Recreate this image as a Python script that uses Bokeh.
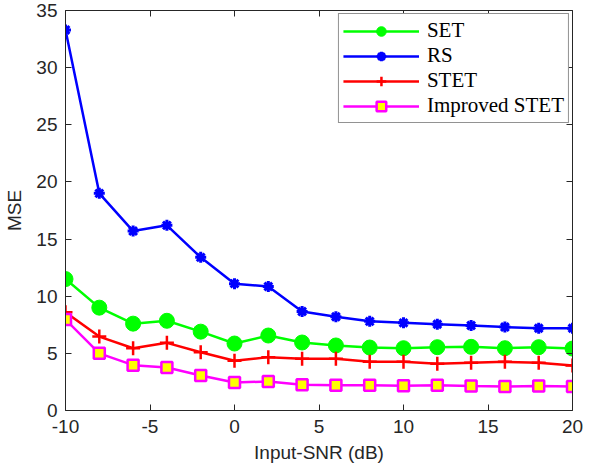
from bokeh.plotting import figure
from bokeh.models import Range1d, LinearAxis, FixedTicker, Legend, LegendItem
from bokeh.embed import file_html
from bokeh.resources import INLINE

snr = [-10, -8, -6, -4, -2, 0, 2, 4, 6, 8, 10, 12, 14, 16, 18, 20]
set_mse = [11.5, 9.0, 7.6, 7.85, 6.9, 5.86, 6.56, 5.95, 5.69, 5.51, 5.45, 5.54, 5.57, 5.45, 5.54, 5.42]
rs_mse = [33.3, 19.0, 15.7, 16.2, 13.4, 11.1, 10.85, 8.66, 8.2, 7.8, 7.67, 7.55, 7.44, 7.3, 7.2, 7.2]
stet_mse = [8.6, 6.47, 5.45, 5.92, 5.1, 4.35, 4.67, 4.52, 4.52, 4.26, 4.26, 4.08, 4.17, 4.26, 4.17, 3.94]
istet_mse = [7.96, 5.0, 3.97, 3.76, 3.06, 2.45, 2.54, 2.25, 2.22, 2.22, 2.16, 2.2, 2.14, 2.1, 2.14, 2.1]
x_ticks = [-10, -5, 0, 5, 10, 15, 20]
x_tick_labels = ["-10", "-5", "0", "5", "10", "15", "20"]
y_ticks = [0, 5, 10, 15, 20, 25, 30, 35]

AX = "#262626"
TICK_FONT = "Liberation Sans"

p = figure(width=595, height=468, output_backend="svg", toolbar_location=None,
           x_range=Range1d(-10, 20), y_range=Range1d(0, 35),
           min_border_left=65, min_border_right=23, min_border_top=10, min_border_bottom=58)
p.xgrid.visible = False
p.ygrid.visible = False
p.outline_line_color = None
p.background_fill_color = "white"
p.border_fill_color = "white"

for ax, ticks in ((p.xaxis[0], x_ticks), (p.yaxis[0], y_ticks)):
    ax.ticker = FixedTicker(ticks=ticks)
    ax.major_tick_in = 6
    ax.major_tick_out = 0
    ax.minor_tick_line_color = None
    ax.axis_line_color = AX
    ax.major_tick_line_color = AX
    ax.major_label_text_color = AX
    ax.major_label_text_font = TICK_FONT
    ax.major_label_text_font_size = "19px"
    ax.axis_label_text_font = TICK_FONT
    ax.axis_label_text_font_size = "19px"
    ax.axis_label_text_font_style = "normal"
    ax.axis_label_text_color = AX
p.xaxis[0].major_label_overrides = dict(zip(x_ticks, x_tick_labels))
p.xaxis[0].axis_label = "Input-SNR (dB)"
p.yaxis[0].axis_label = "MSE"
p.xaxis[0].major_label_standoff = 9
p.xaxis[0].axis_label_standoff = 6
p.yaxis[0].major_label_standoff = 8
p.yaxis[0].axis_label_standoff = 8

top = LinearAxis(ticker=FixedTicker(ticks=x_ticks), major_tick_in=6, major_tick_out=0,
                 minor_tick_line_color=None, axis_line_color=AX, major_tick_line_color=AX,
                 major_label_text_font_size="1px", major_label_text_color=None,
                 major_label_standoff=0)
right = LinearAxis(ticker=FixedTicker(ticks=y_ticks), major_tick_in=6, major_tick_out=0,
                   minor_tick_line_color=None, axis_line_color=AX, major_tick_line_color=AX,
                   major_label_text_font_size="1px", major_label_text_color=None,
                   major_label_standoff=0)
p.add_layout(top, "above")
p.add_layout(right, "right")

LW = 2.5
l1 = p.line(snr, set_mse, line_color="#00ff00", line_width=LW)
m1 = p.scatter(snr, set_mse, marker="circle", size=15, fill_color="#00ff00", line_color="#00ff00")
l2 = p.line(snr, rs_mse, line_color="#0000ff", line_width=LW)
m2 = p.scatter(snr, rs_mse, marker="asterisk", size=11, line_color="#0000ff", line_width=3)
l3 = p.line(snr, stet_mse, line_color="#ff0000", line_width=LW)
m3 = p.scatter(snr, stet_mse, marker="cross", size=14, line_color="#ff0000", line_width=2.5)
l4 = p.line(snr, istet_mse, line_color="#ff00ff", line_width=LW)
m4 = p.scatter(snr, istet_mse, marker="square", size=11, fill_color="#ffff00", line_color="#ff00ff", line_width=2.5)

legend = Legend(items=[
    LegendItem(label="SET", renderers=[l1, m1]),
    LegendItem(label="RS", renderers=[l2, m2]),
    LegendItem(label="STET", renderers=[l3, m3]),
    LegendItem(label="Improved STET", renderers=[l4, m4]),
], location="top_right")
legend.label_text_font = "Liberation Serif"
legend.label_text_font_size = "21px"
legend.label_text_color = "black"
legend.glyph_width = 76
legend.glyph_height = 24
legend.label_height = 24
legend.spacing = 0
legend.padding = 4
legend.margin = 3
legend.label_standoff = 8
legend.border_line_color = AX
legend.border_line_width = 1
legend.background_fill_alpha = 1
p.add_layout(legend, "center")

open("out.html", "w").write(file_html(p, INLINE))
